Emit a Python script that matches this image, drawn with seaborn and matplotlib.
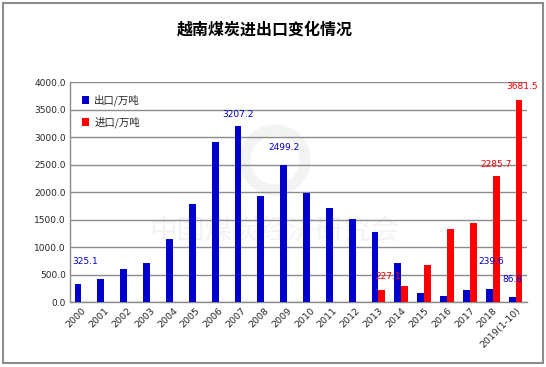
import matplotlib
matplotlib.use("Agg")
import matplotlib.pyplot as plt
import seaborn as sns
import pandas as pd
import numpy as np
from matplotlib.patches import Rectangle

years = ["2000", "2001", "2002", "2003", "2004", "2005", "2006", "2007", "2008", "2009",
         "2010", "2011", "2012", "2013", "2014", "2015", "2016", "2017", "2018", "2019(1-10)"]
export_vals = [325.1, 424, 605, 714, 1150, 1787, 2915, 3207.2, 1933, 2499.2,
               1987, 1715, 1515, 1279, 714, 170, 115, 224, 239.6, 86.8]
import_vals = [np.nan] * 13 + [227.1, 296, 677, 1330, 1439, 2285.7, 3681.5]
series_names = ["出口/万吨", "进口/万吨"]
title = "越南煤炭进出口变化情况"
watermark = "中国煤炭经济研究会"

sns.set_theme(style="white")
plt.rcParams['font.family'] = ['Noto Sans CJK SC', 'DejaVu Sans']

df = pd.DataFrame({
    "year": years * 2,
    "value": export_vals + import_vals,
    "series": [series_names[0]] * len(years) + [series_names[1]] * len(years),
})

fig = plt.figure(figsize=(5.46, 3.67), dpi=100)
fig.patch.set_facecolor("white")
ax = fig.add_axes([70 / 546, 1 - 302 / 367, 457 / 546, 220 / 367])

sns.barplot(data=df, x="year", y="value", hue="series", order=years,
            hue_order=series_names, palette=["#0000CC", "#FF0000"],
            width=0.6, ax=ax, errorbar=None, saturation=1, linewidth=0,
            zorder=3)

# faint watermark
ax.text((274 - 70) / 457, (302 - 231) / 220, watermark, transform=ax.transAxes,
        ha="center", va="center", fontsize=20, color="#f3f3f3", zorder=0.1)
circ = plt.Circle((275, 367 - 160), 30, transform=None, fill=False,
                  edgecolor="#f2f4f2", linewidth=8, zorder=0.1)
ax.add_artist(circ)

ax.set_ylim(0, 4000)
ax.set_yticks(np.arange(0, 4001, 500))
ax.set_yticklabels([f"{v:.1f}" for v in np.arange(0, 4001, 500)],
                   fontsize=6.5, family="DejaVu Sans")
ax.set_xlabel("")
ax.set_ylabel("")
ax.set_xticks(range(len(years)))
ax.set_xticklabels(years, rotation=45, ha="right", rotation_mode="anchor",
                   fontsize=6.8, family="DejaVu Sans")
ax.tick_params(axis="both", length=0, pad=3)
ax.grid(axis="y", color="#8c8c8c", linewidth=1, zorder=0.5)
ax.set_axisbelow(True)
for s in ["top", "right"]:
    ax.spines[s].set_visible(False)
for s in ["left", "bottom"]:
    ax.spines[s].set_color("#8c8c8c")
    ax.spines[s].set_linewidth(1)
ax.set_xlim(-0.5, len(years) - 0.5)

# data labels
labels = [
    (0, export_vals[0], -0.15, 7, 18, "#0000CC"),
    (7, export_vals[7], -0.15, 0, 7, "#0000CC"),
    (9, export_vals[9], -0.15, 0, 13, "#0000CC"),
    (18, export_vals[18], -0.15, 2, 23, "#0000CC"),
    (19, export_vals[19], -0.15, 0, 13, "#0000CC"),
    (13, import_vals[13], 0.15, 6, 9, "#FF0000"),
    (18, import_vals[18], 0.15, 0, 7, "#FF0000"),
    (19, import_vals[19], 0.15, 3, 9, "#FF0000"),
]
for i, v, off, dx, dy, c in labels:
    ax.annotate(f"{v:.1f}", xy=(i + off, v), xytext=(dx, dy),
                textcoords="offset pixels", ha="center", va="bottom",
                fontsize=6.5, color=c, family="DejaVu Sans", zorder=5)

ax.legend(loc="upper left", bbox_to_anchor=(0.005, 0.985), frameon=False,
          fontsize=7.5, handlelength=0.7, handleheight=0.7,
          labelspacing=1.0, handletextpad=0.5)

fig.text(265 / 546, 1 - 30 / 367, title, ha="center", va="center",
         fontsize=11.5, fontweight="bold", color="black")

fig.add_artist(Rectangle((3 / 546, 4 / 367), 540 / 546, 360 / 367,
                         transform=fig.transFigure, fill=False,
                         edgecolor="#8c8c8c", linewidth=1.5))

fig.savefig("out.png", dpi=100)
